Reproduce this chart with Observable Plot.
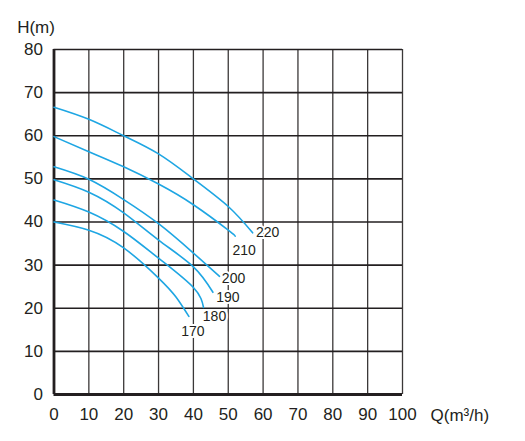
<!DOCTYPE html>
<html>
<head>
<meta charset="utf-8">
<script src="https://cdn.jsdelivr.net/npm/d3@7"></script>
<script src="https://cdn.jsdelivr.net/npm/@observablehq/plot@0.6"></script>
<style>
  html, body { margin: 0; padding: 0; background: #fff; }
</style>
</head>
<body>
<div id="chart"></div>
<script>
// ---- data ----
const speeds = ["220", "210", "200", "190", "180", "170"];
const flow220 = [0, 10, 20, 30, 40, 50, 57];
const head220 = [66.6, 63.8, 60.0, 55.8, 50.0, 43.6, 37.5];
const flow210 = [0, 10, 20, 30, 40, 50, 52];
const head210 = [59.8, 56.3, 52.8, 48.8, 44.0, 38.1, 36.7];
const flow200 = [0, 10, 20, 30, 40, 47.5];
const head200 = [52.8, 49.9, 45.2, 39.6, 32.8, 27.4];
const flow190 = [0, 10, 20, 30, 40, 45.6];
const head190 = [49.8, 46.9, 42.1, 35.8, 29.6, 23.7];
const flow180 = [0, 10, 20, 30, 40, 42.9];
const head180 = [45.1, 42.3, 37.8, 31.6, 24.8, 20.2];
const flow170 = [0, 10, 20, 30, 35, 38.7];
const head170 = [40.0, 38.1, 34.0, 27.0, 22.6, 18.1];
const xTicks = [0, 10, 20, 30, 40, 50, 60, 70, 80, 90, 100];
const yTicks = [0, 10, 20, 30, 40, 50, 60, 70, 80];
const xTitle = "Q(m³/h)";
const yTitle = "H(m)";

// ---- build table ----
const flows = [flow220, flow210, flow200, flow190, flow180, flow170];
const heads = [head220, head210, head200, head190, head180, head170];
const rows = [];
speeds.forEach((s, i) => flows[i].forEach((q, j) => rows.push({speed: s, q, h: heads[i][j]})));
const ends = speeds.map((s, i) => ({speed: s, q: flows[i][flows[i].length - 1], h: heads[i][heads[i].length - 1]}));

const ink = "#231f20";
const blue = "#1ea6e3";
const offsets = {"220": [15, 0], "210": [9, 14], "200": [14, 2], "190": [15, 5], "180": [11, 9], "170": [4, 15]};

const labelMarks = ends.map(e => Plot.text([e], {
  x: "q", y: "h", text: "speed",
  dx: offsets[e.speed][0], dy: offsets[e.speed][1],
  fill: ink, stroke: "white", strokeWidth: 4, paintOrder: "stroke",
  fontSize: 14
}));

const chart = Plot.plot({
  width: 525,
  height: 441,
  marginLeft: 53.5,
  marginRight: 123,
  marginTop: 49,
  marginBottom: 47,
  style: {fontFamily: "'Liberation Sans', Arial, Helvetica, sans-serif", background: "white", color: ink},
  x: {domain: [0, 100]},
  y: {domain: [0, 80]},
  marks: [
    Plot.ruleX(xTicks.filter(d => d > 0), {stroke: "#3b3838", strokeWidth: 1.3}),
    Plot.ruleY(yTicks.filter(d => d > 0), {stroke: ink, strokeWidth: 1.7}),
    Plot.ruleX([0], {stroke: ink, strokeWidth: 2.8}),
    Plot.ruleY([0], {stroke: ink, strokeWidth: 2.8}),
    Plot.line(rows, {x: "q", y: "h", z: "speed", stroke: blue, strokeWidth: 1.6, curve: "natural"}),
    ...labelMarks,
    Plot.axisX({ticks: xTicks, tickSize: 0, tickPadding: 13, fontSize: 17, label: null, fill: ink}),
    Plot.axisY({ticks: yTicks, tickSize: 0, tickPadding: 11, fontSize: 17, label: null, fill: ink}),
    Plot.text([xTitle], {x: 100, y: 0, dx: 28, dy: 21, textAnchor: "start", fontSize: 17, fill: ink}),
    Plot.text([yTitle], {x: 0, y: 80, dx: -18, dy: -22, fontSize: 17, fill: ink})
  ]
});
document.getElementById("chart").appendChild(chart);
</script>
</body>
</html>
